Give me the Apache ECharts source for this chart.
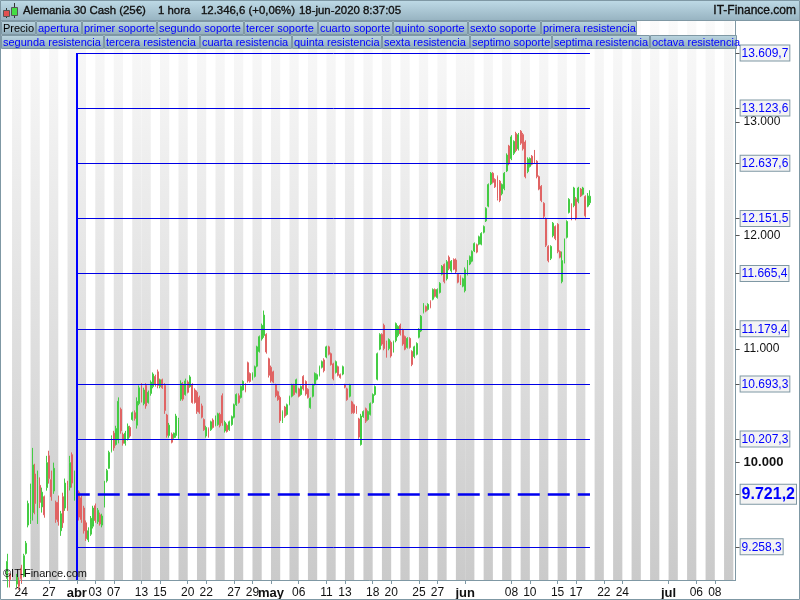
<!DOCTYPE html>
<html><head><meta charset="utf-8">
<style>html,body{margin:0;padding:0;background:#fff}#c{width:800px;height:600px}</style>
<script src="https://cdn.jsdelivr.net/npm/echarts@6/dist/echarts.min.js"></script>
</head><body><div id="c"></div>
<script>
// trading days shown on the axis (calendar day of month, month rollovers implied)
const dayNumbers = [20,23,24,25,26,27,30,31,
 1,2,3,6,7,8,9,13,14,15,16,17,20,21,22,23,24,27,28,29,30,
 1,4,5,6,7,8,11,12,13,14,15,18,19,20,21,22,25,26,27,28,29,
 1,2,3,4,5,8,9,10,11,12,15,16,17,18,19,22,23,24,25,26,29,30,
 1,2,3,6,7,8,9,10];
const dayTickIndex = [2,5,8,10,12,15,17,20,22,25,27,29,32,35,37,40,42,45,47,50,55,57,60,62,65,67,72,75,77];
const dayTickLabels = ['24','27','abr','03','07','13','15','20','22','27','29','may','06','11','13','18','20','25','27','jun','08','10','15','17','22','24','jul','06','08'];
const monthLabels = ['abr','may','jun','jul'];
const barsPerDay = 4, firstBarSlot = 2;

const opens = [
8980,9020,
8860,8850,8930,8960,
9070,9000,9200,9450,
9500,9560,9900,9550,
9800,9610,9700,9780,
10060,9850,9750,9650,
9650,9400,9700,9600,
9800,9780,10070,9700,
9850,9740,9690,9600,
9470,9320,9370,9440,
9620,9480,9540,9450,
9620,9840,9950,10100,
10260,10160,10200,10470,
10250,10170,10210,10310,
10380,10440,10330,10520,
10680,10520,10680,10530,
10610,10670,10760,10800,
10670,10730,10680,10420,
10240,10250,10220,10240,
10230,10560,10690,10600,
10710,10670,10690,10640,
10620,10575,10500,10380,
10235,10300,10290,10375,
10330,10335,10425,10590,
10280,10330,10290,10335,
10400,10510,10590,10575,
10640,10690,10880,10785,
10735,10760,10850,10980,
11090,11120,11130,10915,
10840,10800,10685,10625,
10575,10365,10490,10425,
10515,10585,10680,10620,
10650,10600,10760,10715,
10645,10485,10585,10690,
10735,10770,10840,10905,
10930,11020,10960,10870,
10795,10845,10775,10780,
10685,10650,10585,10535,
10510,10490,10385,10160,
10405,10475,10380,10425,
10530,10600,10735,11000,
11130,11210,11060,11005,
11060,10985,11075,11120,
11210,11170,11110,11015,
11095,10980,10935,10955,
11105,11160,11325,11375,
11350,11420,11440,11525,
11455,11500,11660,11745,
11620,11810,11690,11790,
11785,11660,11640,11555,
11515,11660,11750,11775,
11865,11920,11925,11925,
12030,12130,12260,12455,
12550,12495,12520,12480,
12370,12415,12570,12790,
12680,12725,12900,12765,
12920,12890,12825,12565,
12610,12700,12745,12655,
12520,12435,12285,12150,
11905,11800,12000,12080,
12100,11860,11595,11770,
11985,12205,12270,12265,
12325,12300,12410,12365,
12345,12260,12290];
const closes = [
9130,8970,
8800,8900,9000,8910,
8980,9180,9290,9640,
9760,9980,9640,9850,
9650,9740,9540,10000,
9860,9700,9950,9500,
9480,9550,9470,9820,
9620,10000,9820,9900,
9650,9520,9500,9400,
9330,9400,9510,9600,
9490,9580,9460,9530,
9830,9930,10090,10220,
10130,10300,10540,10280,
10170,10260,10320,10235,
10440,10390,10540,10660,
10560,10640,10500,10620,
10710,10780,10690,10680,
10730,10660,10460,10240,
10330,10180,10260,10410,
10380,10700,10560,10720,
10620,10755,10530,10530,
10450,10445,10400,10290,
10310,10235,10360,10310,
10400,10430,10325,10350,
10355,10275,10360,10405,
10510,10600,10530,10670,
10715,10630,10720,10715,
10785,10845,11020,11110,
11210,11300,10975,10770,
10720,10710,10590,10555,
10370,10450,10410,10510,
10580,10685,10600,10730,
10585,10670,10650,10605,
10575,10565,10685,10785,
10775,10845,10890,10810,
11020,10955,10865,10740,
10890,10770,10750,10845,
10665,10555,10685,10440,
10440,10440,10225,10410,
10450,10365,10450,10520,
10600,10670,10960,11130,
11045,11005,10940,11085,
10940,11065,11225,11200,
11135,11045,11000,11095,
11015,10865,11020,11050,
11175,11290,11395,11335,
11395,11370,11525,11465,
11525,11580,11730,11595,
11770,11710,11775,11705,
11685,11590,11575,11620,
11700,11775,11815,11860,
11930,11855,11990,12020,
12080,12240,12450,12550,
12470,12430,12330,12310,
12450,12550,12710,12635,
12870,12830,12750,12890,
12815,12765,12520,12675,
12680,12630,12650,12520,
12410,12310,12170,11915,
11780,11905,12110,11975,
11860,11810,11780,11960,
12125,12320,12150,12420,
12150,12420,12350,12420,
12175,12350,12347];
const lows = [
8900,8900,
8760,8780,8900,8880,
8940,8990,9190,9430,
9460,9490,9545,9460,
9600,9560,9515,9753,
9815,9665,9725,9470,
9445,9355,9425,9575,
9575,9755,9780,9665,
9620,9490,9470,9375,
9310,9300,9355,9420,
9470,9460,9445,9430,
9605,9825,9945,10090,
10105,10150,10170,10255,
10150,10150,10195,10220,
10370,10370,10300,10505,
10530,10505,10475,10520,
10590,10655,10670,10655,
10655,10650,10430,10220,
10220,10170,10210,10220,
10210,10545,10545,10590,
10610,10660,10520,10520,
10430,10430,10390,10280,
10220,10220,10280,10300,
10320,10325,10310,10325,
10265,10265,10280,10325,
10390,10500,10520,10565,
10635,10620,10705,10705,
10725,10750,10840,10970,
11075,11100,10960,10750,
10705,10700,10575,10545,
10350,10350,10395,10415,
10505,10575,10590,10610,
10575,10590,10635,10590,
10565,10475,10575,10680,
10725,10760,10830,10795,
10920,10945,10855,10725,
10785,10760,10740,10770,
10655,10545,10575,10430,
10430,10430,10210,10150,
10395,10350,10370,10415,
10520,10590,10725,10990,
11030,10990,10925,10990,
10925,10970,11060,11105,
11120,11030,10990,11005,
11005,10850,10920,10945,
11095,11150,11315,11325,
11340,11360,11430,11455,
11445,11490,11650,11580,
11605,11695,11675,11695,
11670,11580,11565,11545,
11500,11650,11740,11765,
11855,11845,11915,11915,
12020,12120,12250,12445,
12460,12420,12310,12295,
12355,12400,12560,12620,
12665,12710,12735,12750,
12800,12750,12505,12550,
12600,12620,12640,12505,
12400,12295,12155,11900,
11765,11785,11985,11960,
11845,11800,11580,11755,
11975,12195,12135,12250,
12135,12285,12340,12355,
12160,12250,12270];
const highs = [
9197,9030,
8900,8920,9020,8990,
9100,9197,9310,9665,
9815,10130,9990,9930,
9870,9780,9710,10060,
10105,9930,10000,9665,
9710,9575,9735,9860,
9840,10060,10090,9930,
9860,9755,9710,9620,
9490,9430,9530,9620,
9640,9600,9560,9550,
9840,9945,10105,10240,
10280,10325,10575,10485,
10265,10280,10345,10325,
10450,10460,10575,10680,
10700,10660,10700,10635,
10725,10795,10775,10820,
10740,10740,10700,10430,
10350,10265,10265,10430,
10395,10725,10710,10740,
10725,10770,10700,10655,
10635,10590,10520,10390,
10325,10310,10370,10390,
10415,10440,10440,10610,
10370,10345,10370,10415,
10520,10610,10610,10680,
10725,10700,10890,10795,
10795,10855,11030,11120,
11225,11340,11140,10925,
10855,10810,10695,10635,
10590,10460,10500,10520,
10590,10695,10695,10740,
10660,10680,10770,10725,
10655,10575,10695,10795,
10785,10855,10900,10920,
11030,11030,10970,10880,
10900,10855,10785,10855,
10695,10660,10695,10545,
10520,10500,10395,10430,
10460,10485,10460,10530,
10610,10680,10970,11140,
11140,11225,11075,11095,
11075,11075,11235,11210,
11225,11180,11120,11105,
11105,10990,11030,11060,
11185,11300,11405,11385,
11405,11430,11535,11535,
11535,11590,11740,11755,
11785,11825,11785,11800,
11800,11670,11650,11630,
11720,11785,11825,11870,
11940,11930,12000,12030,
12090,12250,12460,12560,
12560,12505,12530,12490,
12460,12560,12725,12800,
12885,12840,12915,12905,
12930,12905,12840,12690,
12690,12710,12755,12665,
12530,12445,12295,12160,
11915,11915,12120,12090,
12110,11870,11860,11975,
12135,12330,12285,12430,
12340,12430,12420,12430,
12355,12375,12400];

const levelValues = [13609.7,13123.6,12637.6,12151.5,11665.4,11179.4,10693.3,10207.3,9258.3];
const levelLabels = ['13.609,7','13.123,6','12.637,6','12.151,5','11.665,4','11.179,4','10.693,3','10.207,3','9.258,3'];
const pivotValue = 9721.2, pivotLabel = '9.721,2';
const roundValues = [13000,12000,11000,10000];
const roundLabels = ['13.000','12.000','11.000','10.000'];
const lineStartDay = 8;
const axisMin = 8966, axisMax = 13900;

const legendRow1 = ['Precio','apertura','primer soporte','segundo soporte','tercer soporte','cuarto soporte','quinto soporte','sexto soporte','primera resistencia'];
const legendRow2 = ['segunda resistencia','tercera resistencia','cuarta resistencia','quinta resistencia','sexta resistencia','septimo soporte','septima resistencia','octava resistencia'];
const titleParts = ['Alemania 30 Cash (25€)','1 hora','12.346,6 (+0,06%)','18-jun-2020 8:37:05'];
const brand = 'IT-Finance.com', logo = '©IT-Finance.com';

// layout only
const titleX = [23,158,201,299];
const row1Edges = [1,36,82,157,244,318,393,468,541,637];
const row2Edges = [1,104,200,292,382,470,552,650,737];

const FRAME = '#7f98a4';
const totalSlots = (dayNumbers.length-1)*barsPerDay + 2;
const cats = Array.from({length:totalSlots},(_,i)=>'s'+i);
const tickMap = {};
dayTickIndex.forEach((d,i)=>{tickMap[d*barsPerDay]=dayTickLabels[i];});

const candle = [];
for(let i=0;i<firstBarSlot;i++) candle.push('-');
opens.forEach((o,i)=>candle.push([o,closes[i],lows[i],highs[i]]));
const lastSlot = candle.length-1;

const stripeColor = {type:'linear',x:0,y:0,x2:0,y2:1,colorStops:[{offset:0,color:'#fafafa'},{offset:1,color:'#cacaca'}]};
const stripes = [];
dayNumbers.forEach((n,d)=>{ if(n%2===1){ stripes.push([{xAxis:cats[d*barsPerDay],itemStyle:{color:stripeColor}},{xAxis:cats[(d+1)*barsPerDay]}]); }});

const startCat = cats[lineStartDay*barsPerDay], endCat = cats[lastSlot];
const blue = '#0000e6';
const lines = levelValues.map(v=>[{coord:[startCat,v]},{coord:[endCat,v]}]);
lines.push([{coord:[startCat,levelValues[0]],lineStyle:{width:2,color:'#0000ff'}},{coord:[startCat,axisMin]}]);
lines.push([{coord:[startCat,pivotValue],lineStyle:{width:2.5,color:'#0000f0',type:[22,8],dashOffset:9}},{coord:[endCat,pivotValue]}]);

const yLabelMap = {};
levelValues.forEach((v,i)=>{yLabelMap[v]='{box|'+levelLabels[i]+'}';});
roundValues.forEach((v,i)=>{yLabelMap[v]=(v===10000?'{bold|':'{plain|')+roundLabels[i]+'}';});
yLabelMap[pivotValue]='{big|'+pivotLabel+'}';
const yVals = levelValues.concat(roundValues,[pivotValue]).sort((a,b)=>a-b);

const font = '"Liberation Sans", Arial, sans-serif';
const hdrGrad = {type:'linear',x:0,y:0,x2:0,y2:1,colorStops:[{offset:0,color:'#bfdbe7'},{offset:1,color:'#98b4c2'}]};
const btnGrad = {type:'linear',x:0,y:0,x2:0,y2:1,colorStops:[{offset:0,color:'#bcd6e1'},{offset:1,color:'#8fabb8'}]};

const g = [];
g.push({type:'rect',z:100,shape:{x:0,y:0,width:800,height:20},style:{fill:hdrGrad}});
g.push({type:'line',z:100,shape:{x1:0,y1:20.5,x2:800,y2:20.5},style:{stroke:FRAME,lineWidth:1}});
titleParts.forEach((t,i)=>g.push({type:'text',z:101,x:titleX[i],y:11,style:{text:t,font:'11.4px '+font,fill:'#111',stroke:'#111',lineWidth:0.35,textVerticalAlign:'middle'}}));
g.push({type:'text',z:101,x:796,y:11,style:{text:brand,font:'12px '+font,fill:'#111',stroke:'#111',lineWidth:0.35,textAlign:'right',textVerticalAlign:'middle'}});
// icon
g.push({type:'line',z:101,shape:{x1:6.5,y1:8,x2:6.5,y2:18},style:{stroke:'#333',lineWidth:1}});
g.push({type:'rect',z:102,shape:{x:3.5,y:10.5,width:6,height:6},style:{fill:'#e05050',stroke:'#555',lineWidth:1}});
g.push({type:'line',z:101,shape:{x1:14.5,y1:3,x2:14.5,y2:18},style:{stroke:'#333',lineWidth:1}});
g.push({type:'rect',z:102,shape:{x:11.5,y:7.5,width:6,height:8},style:{fill:'#44dd44',stroke:'#555',lineWidth:1}});
function row(labels,edges,y,h){
  labels.forEach((t,i)=>{
    const x=edges[i], w=edges[i+1]-x;
    g.push({type:'rect',z:100,shape:{x:x+0.5,y:y+0.5,width:w-1,height:h-1},style:{fill:btnGrad,stroke:FRAME,lineWidth:1}});
    g.push({type:'text',z:101,x:x+2,y:y+h/2+0.5,style:{text:t,font:'11px '+font,fill:t==='Precio'?'#000':'#0000ff',textVerticalAlign:'middle'}});
  });
}
row(legendRow1,row1Edges,21,14);
row(legendRow2,row2Edges,35,14);
g.push({type:'text',z:101,x:3,y:574,style:{text:logo,font:'11px '+font,fill:'#111',textVerticalAlign:'middle'}});
// frame
g.push({type:'rect',z:103,shape:{x:0.5,y:0.5,width:799,height:599},style:{fill:'none',stroke:FRAME,lineWidth:1}});

const chart = echarts.init(document.getElementById('c'),null,{renderer:'canvas'});
chart.setOption({
  animation:false,
  backgroundColor:'#fff',
  grid:{left:2.8,top:20,width:733.2,height:560,containLabel:false},
  xAxis:{type:'category',data:cats,boundaryGap:false,position:'bottom',
    axisLine:{show:true,lineStyle:{color:FRAME,width:1}},
    axisTick:{show:true,length:4,lineStyle:{color:FRAME},interval:(i)=>tickMap[i]!==undefined},
    splitLine:{show:false},
    axisLabel:{show:true,margin:7,hideOverlap:false,interval:(i)=>tickMap[i]!==undefined,
      formatter:(v,i)=>{const t=tickMap[i]; if(t===undefined)return ''; return monthLabels.includes(t)?'{m|'+t+'}':'{d|'+t+'}';},
      rich:{d:{fontFamily:font,fontSize:12,color:'#111'},m:{fontFamily:font,fontSize:13,fontWeight:'bold',color:'#111'}}}},
  yAxis:{type:'value',position:'right',min:axisMin,max:axisMax,scale:true,splitLine:{show:false},
    axisLine:{show:true,lineStyle:{color:FRAME,width:1}},
    axisTick:{show:true,length:4,lineStyle:{color:'#555'},customValues:yVals},
    axisLabel:{show:true,margin:5,hideOverlap:false,customValues:yVals,showMinLabel:true,showMaxLabel:true,
      formatter:(v)=>yLabelMap[v]||'',
      rich:{
        box:{fontFamily:font,fontSize:12,color:'#0000ff',backgroundColor:'#f3f3f3',borderColor:FRAME,borderWidth:1,padding:[2,1,1,1]},
        big:{fontFamily:font,fontSize:16,fontWeight:'bold',color:'#0000ff',backgroundColor:'#f3f3f3',borderColor:FRAME,borderWidth:1,padding:[2,1,1,1]},
        plain:{fontFamily:font,fontSize:12,color:'#111',padding:[0,0,0,3]},
        bold:{fontFamily:font,fontSize:13,fontWeight:'bold',color:'#111',padding:[0,0,0,3]}
      }}},
  series:[{type:'candlestick',data:candle,barWidth:1.4,clip:true,silent:true,
    itemStyle:{color:'#44cc44',color0:'#e06464',borderColor:'#44cc44',borderColor0:'#e06464',borderWidth:1},
    markArea:{silent:true,animation:false,data:stripes},
    markLine:{silent:true,animation:false,symbol:'none',label:{show:false},lineStyle:{color:blue,width:1,type:'solid'},data:lines}
  }],
  graphic:{elements:g}
});
</script></body></html>
